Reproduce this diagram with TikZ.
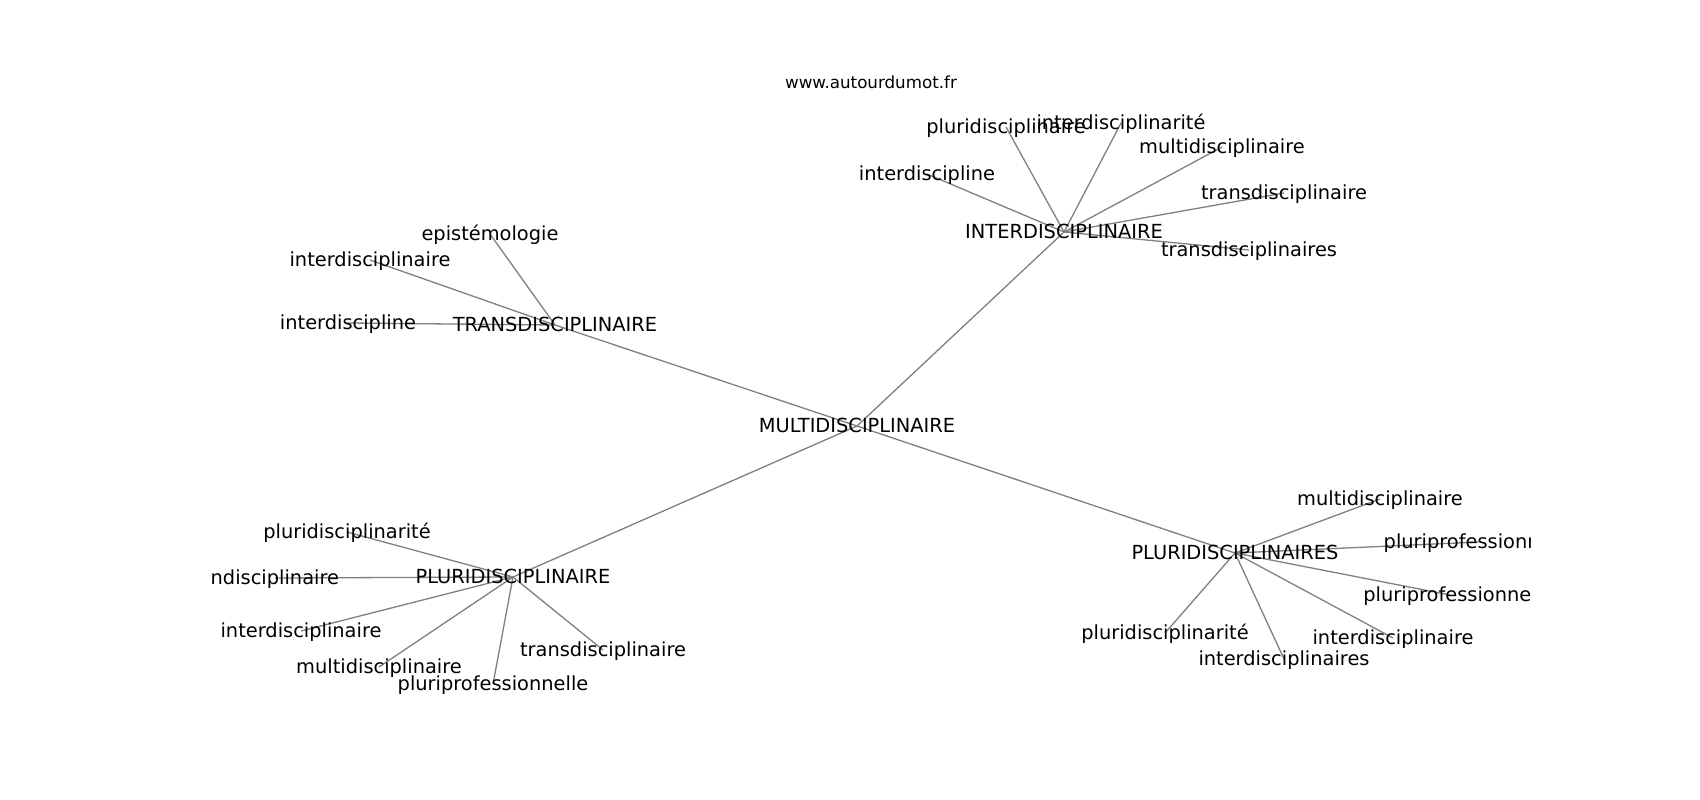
\documentclass[tikz,border=0pt]{standalone}
\usepackage{fontspec}
\setmainfont{DejaVu Sans}
\pgfdeclarelayer{bg}
\pgfsetlayers{bg,main}
\begin{document}
\begin{tikzpicture}[x=1pt,y=-1pt,
  lbl/.style={font=\fontsize{19.4}{23}\selectfont, inner sep=0pt, outer sep=0pt,
              text height=13.6pt, text depth=0pt, anchor=center},
  ttl/.style={font=\fontsize{16.7}{20}\selectfont, inner sep=0pt, anchor=base},
  edge/.style={draw=gray, line width=1.3pt}]
\useasboundingbox (0,0) rectangle (1700,800);
\node[ttl] (title) at (871,88.8) {www.autourdumot.fr};
\begin{scope}
\clip (212.5,96) rectangle (1530,712);
% hubs
\node[lbl] (M) at (857,426) {MULTIDISCIPLINAIRE};
\node[lbl] (T) at (555,325) {TRANSDISCIPLINAIRE};
\node[lbl] (I) at (1064,232) {INTERDISCIPLINAIRE};
\node[lbl] (P) at (513,577) {PLURIDISCIPLINAIRE};
\node[lbl] (S) at (1235,553) {PLURIDISCIPLINAIRES};
% TRANS leaves
\node[lbl] (T1) at (490,234) {epist\'emologie};
\node[lbl] (T2) at (370,260) {interdisciplinaire};
\node[lbl] (T3) at (348,323) {interdiscipline};
% INTER leaves
\node[lbl] (I1) at (1006,127) {pluridisciplinaire};
\node[lbl] (I2) at (1121,123) {interdisciplinarit\'e};
\node[lbl] (I3) at (1222,147) {multidisciplinaire};
\node[lbl] (I4) at (927,174) {interdiscipline};
\node[lbl] (I5) at (1284,193) {transdisciplinaire};
\node[lbl] (I6) at (1249,250) {transdisciplinaires};
% PLURI leaves
\node[lbl] (P1) at (347,532) {pluridisciplinarit\'e};
\node[lbl,anchor=east] (P2) at (339,578) {ndisciplinaire};
\node[lbl] (P3) at (301,631) {interdisciplinaire};
\node[lbl] (P4) at (379,667) {multidisciplinaire};
\node[lbl] (P5) at (493,684) {pluriprofessionnelle};
\node[lbl] (P6) at (603,650) {transdisciplinaire};
% PLURIS leaves
\node[lbl] (S1) at (1380,499) {multidisciplinaire};
\node[lbl] (S2) at (1479,542) {pluriprofessionnelle};
\node[lbl] (S3) at (1450,595) {pluriprofessionnel};
\node[lbl] (S4) at (1165,633) {pluridisciplinarit\'e};
\node[lbl] (S5) at (1393,638) {interdisciplinaire};
\node[lbl] (S6) at (1284,659) {interdisciplinaires};
\end{scope}
\begin{pgfonlayer}{bg}
\fill[white] (0,0) rectangle (1700,800);
\clip (212.5,96) rectangle (1530,712);
\foreach \h in {T,I,P,S}
  \draw[edge] (M.center) -- (\h.center);
\foreach \l in {T1,T2,T3}
  \draw[edge] (T.center) -- (\l.center);
\foreach \l in {I1,I2,I3,I4,I5,I6}
  \draw[edge] (I.center) -- (\l.center);
\foreach \l in {P1,P2,P3,P4,P5,P6}
  \draw[edge] (P.center) -- (\l.center);
\foreach \l in {S1,S2,S3,S4,S5,S6}
  \draw[edge] (S.center) -- (\l.center);
\end{pgfonlayer}
\end{tikzpicture}
\end{document}
